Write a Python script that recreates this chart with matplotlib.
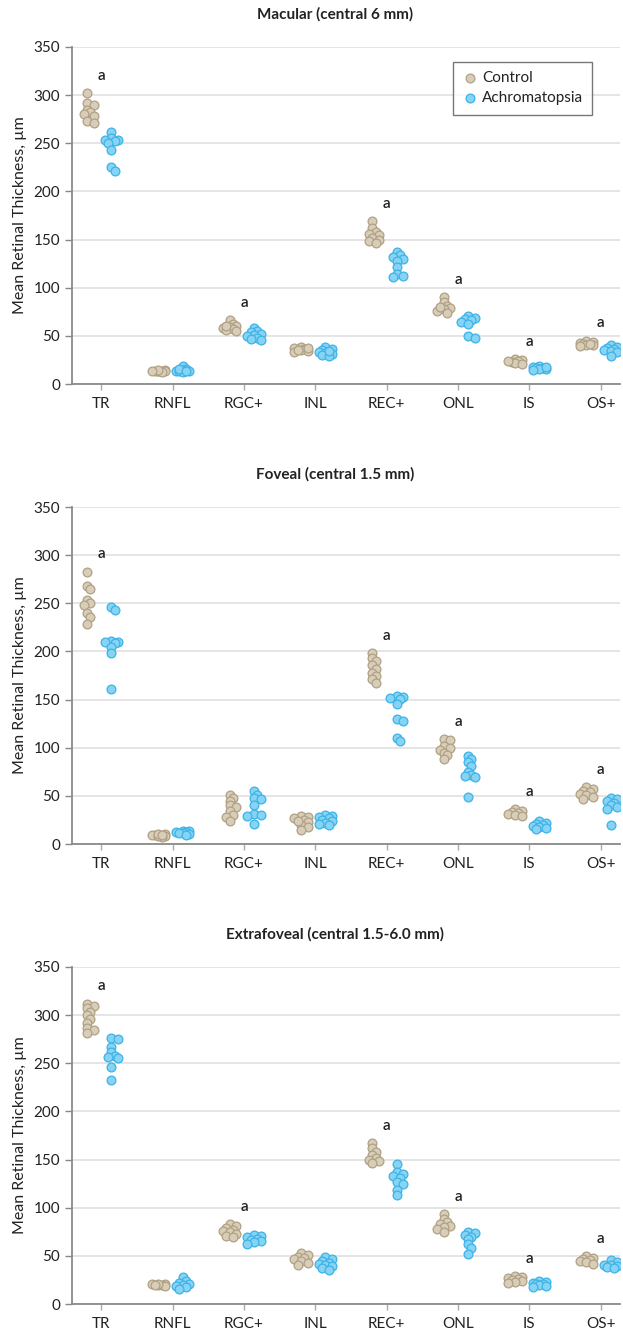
import numpy as np
import matplotlib
matplotlib.use('Agg')
import matplotlib.pyplot as plt

plt.rcParams['font.family'] = ['Lato', 'DejaVu Sans']

# layers on the x axis
layers = ['TR', 'RNFL', 'RGC+', 'INL', 'REC+', 'ONL', 'IS', 'OS+']

# 1. Macular (central 6 mm)
macular_control = [
    [302, 292, 290, 285, 282, 280, 278, 273, 271],
    [13, 14, 14, 15, 13, 14, 12, 15, 14],
    [66, 62, 60, 59, 58, 57, 56, 60, 55],
    [38, 37, 36, 35, 34, 33, 35, 37],
    [169, 162, 158, 156, 155, 152, 150, 148, 146],
    [90, 85, 81, 79, 78, 76, 74, 80],
    [26, 25, 24, 23, 22, 21, 24],
    [45, 44, 43, 42, 41, 40, 39, 42],
]
macular_achro = [
    [262, 255, 253, 253, 252, 250, 243, 225, 221],
    [19, 16, 15, 14, 13, 14, 12, 16, 13],
    [58, 55, 54, 52, 51, 50, 48, 46, 47],
    [38, 36, 35, 33, 32, 31, 30, 29, 34],
    [137, 134, 132, 130, 128, 121, 114, 112, 111],
    [71, 69, 68, 66, 64, 62, 50, 48],
    [19, 18, 17, 17, 16, 16, 18, 15],
    [40, 38, 37, 36, 35, 34, 33, 29],
]
macular_sig = [1, 0, 1, 0, 1, 1, 1, 1]

# 2. Foveal (central 1.5 mm)
foveal_control = [
    [283, 268, 265, 253, 250, 248, 240, 236, 228],
    [10, 9, 8, 9, 7, 8, 10, 9],
    [51, 48, 45, 40, 38, 34, 30, 28, 24],
    [29, 28, 27, 25, 23, 20, 18, 15, 24],
    [198, 193, 190, 186, 182, 178, 175, 171, 167],
    [109, 108, 102, 100, 98, 95, 92, 88],
    [36, 34, 33, 32, 31, 30, 29],
    [59, 57, 55, 54, 52, 51, 49, 47],
]
foveal_achro = [
    [246, 243, 211, 210, 210, 209, 205, 198, 161],
    [14, 13, 12, 11, 10, 12, 11, 9],
    [55, 51, 48, 47, 40, 31, 30, 29, 21],
    [30, 29, 28, 27, 25, 24, 22, 21, 20],
    [154, 153, 152, 151, 145, 130, 128, 110, 107],
    [91, 88, 85, 81, 75, 72, 71, 70, 49],
    [24, 22, 21, 20, 19, 18, 17, 16],
    [48, 47, 45, 43, 40, 38, 36, 20],
]
foveal_sig = [1, 0, 0, 0, 1, 1, 1, 1]

# 3. Extrafoveal (central 1.5-6.0 mm)
extra_control = [
    [312, 310, 307, 303, 300, 296, 292, 287, 285, 281],
    [21, 20, 21, 20, 19, 21, 20],
    [83, 81, 79, 77, 76, 75, 73, 71, 70],
    [53, 51, 49, 48, 47, 45, 43, 41],
    [167, 162, 158, 155, 152, 150, 148, 146],
    [93, 88, 85, 83, 81, 80, 78, 75],
    [29, 28, 27, 26, 25, 24, 23, 22],
    [50, 48, 47, 46, 45, 44, 42],
]
extra_achro = [
    [276, 275, 267, 262, 258, 257, 256, 246, 233],
    [28, 24, 22, 21, 20, 19, 18, 16],
    [72, 71, 70, 68, 66, 65, 64, 62],
    [49, 47, 45, 43, 42, 40, 39, 37, 35],
    [145, 137, 135, 133, 131, 127, 125, 118, 113],
    [75, 74, 72, 70, 67, 62, 58, 52],
    [24, 23, 22, 21, 21, 20, 19, 18],
    [46, 44, 41, 40, 39, 38, 37],
]
extra_sig = [1, 0, 1, 0, 1, 1, 1, 1]

panels = [
    ('Macular (central 6 mm)', macular_control, macular_achro, macular_sig),
    ('Foveal (central 1.5 mm)', foveal_control, foveal_achro, foveal_sig),
    ('Extrafoveal (central 1.5-6.0 mm)', extra_control, extra_achro, extra_sig),
]

ctrl_face, ctrl_edge = '#d8cdb8', '#b0a184'
achro_face, achro_edge = '#86d3f3', '#3db3e8'
txt = '#222222'

W, H = 623, 1330
fig = plt.figure(figsize=(W / 100, H / 100), dpi=100)

xlim = (-0.41, 7.27)
ylim = (0, 350)
ax_left, ax_right = 72, 620
tops = [47, 507, 967]
ax_h = 337


def swarm(vals, center, px_x, px_y, d=8.0):
    # compact beeswarm: points may overlap, at most 5 slots wide
    order = np.argsort(vals)[::-1]
    placed = []
    xs = np.zeros(len(vals))
    slots = [0, 1, -1, 2, -2]
    for i in order:
        y = vals[i] * px_y
        best, best_gap = 0.0, -1
        for k in slots:
            x = k * d * 0.42
            gap = min([np.hypot(x - px, y - py) for px, py in placed] or [99])
            if gap >= d * 0.5:
                best = x
                break
            if gap > best_gap:
                best, best_gap = x, gap
        placed.append((best, y))
        xs[i] = center + best / px_x
    return xs


for p, (title, ctrl, achro, sig) in enumerate(panels):
    top = tops[p]
    ax = fig.add_axes([ax_left / W, 1 - (top + ax_h) / H, (ax_right - ax_left) / W, ax_h / H])
    px_x = (ax_right - ax_left) / (xlim[1] - xlim[0])
    px_y = ax_h / (ylim[1] - ylim[0])

    for i in range(len(layers)):
        xc = swarm(np.array(ctrl[i], float), i - 0.2, px_x, px_y)
        xa = swarm(np.array(achro[i], float), i + 0.14, px_x, px_y)
        ax.scatter(xc, ctrl[i], s=40, facecolor=ctrl_face, edgecolor=ctrl_edge,
                   linewidth=0.9, zorder=3, label='Control' if i == 0 else None)
        ax.scatter(xa, achro[i], s=40, facecolor=achro_face, edgecolor=achro_edge,
                   linewidth=0.9, zorder=3, label='Achromatopsia' if i == 0 else None)
        if sig[i]:
            ymax = max(max(ctrl[i]), max(achro[i]))
            ax.text(i, ymax + 18, 'a', ha='center', va='center', fontsize=11,
                    fontweight='semibold', color=txt)

    ax.set_xlim(*xlim)
    ax.set_ylim(*ylim)
    ax.set_xticks(range(len(layers)))
    ax.set_xticklabels(layers, fontsize=11, color=txt)
    ax.set_yticks(range(0, 351, 50))
    ax.tick_params(axis='y', labelsize=11, labelcolor=txt, length=5, color='#888888', width=1)
    ax.tick_params(axis='x', length=4, color='#aaaaaa', width=1, pad=5)
    for s in ['top', 'right']:
        ax.spines[s].set_visible(False)
    for s in ['left', 'bottom']:
        ax.spines[s].set_color('#8a8a8a')
        ax.spines[s].set_linewidth(1.3)
    ax.grid(axis='y', color='#e3e3e3', linewidth=1.3, zorder=0)
    ax.set_axisbelow(True)
    ax.set_ylabel('Mean Retinal Thickness, µm', fontsize=11.5, color=txt, labelpad=5)

    fig.text(335 / W, 1 - (top - 33) / H, title, ha='center', va='center',
             fontsize=11, fontweight='bold', color=txt)

    if p == 0:
        leg = ax.legend(loc='upper right', bbox_to_anchor=(0.949, 0.955), fontsize=11,
                        frameon=True, fancybox=False, edgecolor='#555555',
                        handletextpad=0.3, borderpad=0.6, labelspacing=0.4,
                        handlelength=1.0, scatterpoints=1, borderaxespad=0)
        leg.get_frame().set_linewidth(1.0)
        for t in leg.get_texts():
            t.set_color(txt)

fig.savefig('out.png', dpi=100)
